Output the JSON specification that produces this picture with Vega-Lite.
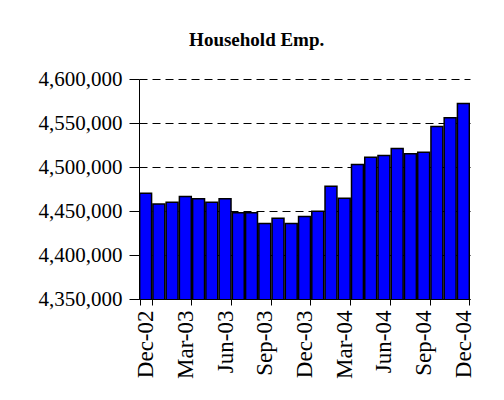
{
  "$schema": "https://vega.github.io/schema/vega-lite/v6.json",
  "width": 331,
  "height": 220,
  "autosize": {"type": "none"},
  "padding": {"left": 139, "top": 79, "right": 34, "bottom": 101},
  "background": "white",
  "title": {
    "text": "Household Emp.",
    "font": "Liberation Serif",
    "fontSize": 19,
    "fontWeight": "bold",
    "color": "black",
    "anchor": "middle",
    "frame": "bounds",
    "baseline": "alphabetic",
    "offset": 3
  },
  "data": {
    "values": [
      {"month": "Dec-02", "emp": 4470200},
      {"month": "Jan-03", "emp": 4458000},
      {"month": "Feb-03", "emp": 4460000},
      {"month": "Mar-03", "emp": 4466500},
      {"month": "Apr-03", "emp": 4464000},
      {"month": "May-03", "emp": 4460000},
      {"month": "Jun-03", "emp": 4463800},
      {"month": "Jul-03", "emp": 4448000},
      {"month": "Aug-03", "emp": 4448000},
      {"month": "Sep-03", "emp": 4435800},
      {"month": "Oct-03", "emp": 4441800},
      {"month": "Nov-03", "emp": 4435800},
      {"month": "Dec-03", "emp": 4443700},
      {"month": "Jan-04", "emp": 4449800},
      {"month": "Feb-04", "emp": 4478200},
      {"month": "Mar-04", "emp": 4464600},
      {"month": "Apr-04", "emp": 4502800},
      {"month": "May-04", "emp": 4511200},
      {"month": "Jun-04", "emp": 4513100},
      {"month": "Jul-04", "emp": 4521000},
      {"month": "Aug-04", "emp": 4515000},
      {"month": "Sep-04", "emp": 4516800},
      {"month": "Oct-04", "emp": 4546000},
      {"month": "Nov-04", "emp": 4555900},
      {"month": "Dec-04", "emp": 4572200}
    ]
  },
  "mark": {"type": "bar", "color": "#0000FF", "stroke": "black", "strokeWidth": 1.5, "strokeOpacity": 1, "clip": true},
  "encoding": {
    "x": {
      "field": "month",
      "type": "ordinal",
      "sort": null,
      "scale": {"paddingInner": 0.1, "paddingOuter": 0.05},
      "axis": {
        "title": null,
        "values": ["Dec-02", "Mar-03", "Jun-03", "Sep-03", "Dec-03", "Mar-04", "Jun-04", "Sep-04", "Dec-04"],
        "labelAngle": -90,
        "labelFont": "Liberation Serif",
        "labelFontSize": 23,
        "labelColor": "black",
        "labelPadding": 5,
        "tickBand": "extent",
        "tickSize": 6,
        "tickColor": "black",
        "domainColor": "black",
        "domainWidth": 1,
        "grid": false,
        "zindex": 1
      }
    },
    "y": {
      "field": "emp",
      "type": "quantitative",
      "scale": {"domain": [4350000, 4600000], "nice": false, "zero": false},
      "axis": {
        "title": null,
        "values": [4350000, 4400000, 4450000, 4500000, 4550000, 4600000],
        "format": ",d",
        "labelFont": "Liberation Serif",
        "labelFontSize": 21,
        "labelColor": "black",
        "labelPadding": 7,
        "tickSize": 10,
        "tickColor": "black",
        "domainColor": "black",
        "grid": true,
        "gridColor": "black",
        "gridDash": [8, 5],
        "gridWidth": 1,
        "gridOpacity": 1
      }
    }
  },
  "config": {
    "view": {"stroke": null},
    "axis": {"labelFontWeight": "normal"}
  }
}
